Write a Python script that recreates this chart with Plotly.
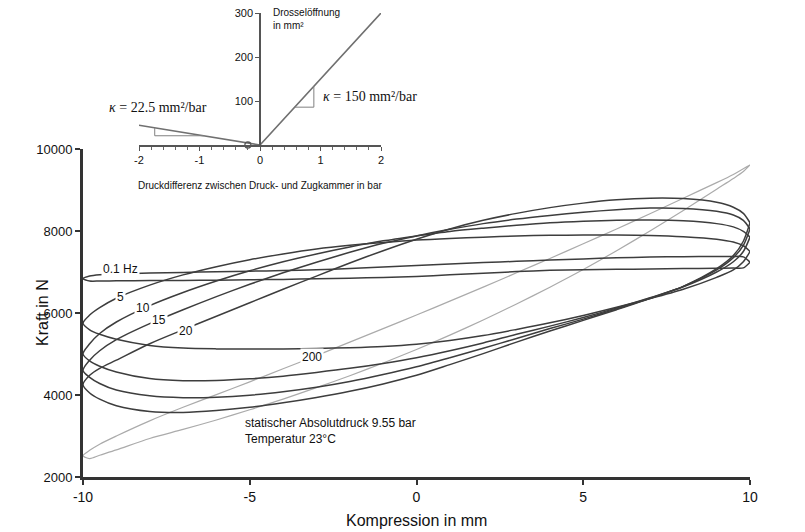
import plotly.graph_objects as go

# page body has an 8 px margin: the figure is sized so that it fills the visible window
OFF = 8
W, H = 805 - OFF, 532 - OFF
FONT = "Liberation Sans, Arial, sans-serif"
SERIF = "Liberation Serif, Times New Roman, serif"


def px(p):
    return (p - OFF) / W


def py(p):
    return 1 - (p - OFF) / H


# ---------------- main chart data (Kompression in mm vs Kraft in N) ----------------
X_UP = [-10, -9.8, -9.5, -9, -8, -7, -6, -5, -4, -3, -2, -1, 0, 1, 2, 3, 4, 5, 6, 7, 8, 9, 9.5, 9.8, 10]
X_LO = [10, 9.8, 9.5, 9, 8, 7, 6, 5, 4, 3, 2, 1, 0, -1, -2, -3, -4, -5, -6, -7, -8, -9, -9.5, -9.8, -10]

F_01_UP = [6840, 6900, 6930, 6950, 6975, 6990, 7005, 7020, 7035, 7055, 7085, 7120, 7160,
           7195, 7230, 7260, 7290, 7320, 7345, 7365, 7375, 7380, 7380, 7370, 7240]
F_01_LO = [7240, 7100, 7095, 7090, 7085, 7075, 7065, 7055, 7040, 7010, 6970, 6930, 6890,
           6865, 6850, 6835, 6820, 6810, 6800, 6795, 6790, 6785, 6780, 6780, 6840]

F_5_UP = [5750, 5950, 6130, 6360, 6680, 6930, 7130, 7300, 7440, 7560, 7650, 7720, 7780,
          7820, 7850, 7880, 7895, 7900, 7900, 7890, 7860, 7800, 7730, 7640, 7500]
F_5_LO = [7500, 7250, 7050, 6870, 6580, 6350, 6140, 5940, 5760, 5600, 5450, 5330, 5240,
          5185, 5155, 5135, 5125, 5120, 5125, 5145, 5210, 5360, 5480, 5590, 5750]

F_10_UP = [5000, 5250, 5500, 5780, 6180, 6500, 6780, 7030, 7250, 7440, 7610, 7760, 7880,
           7990, 8070, 8140, 8200, 8240, 8265, 8270, 8250, 8180, 8100, 7990, 7850]
F_10_LO = [7850, 7500, 7250, 7000, 6640, 6370, 6120, 5890, 5680, 5480, 5270, 5080, 4910,
           4770, 4650, 4550, 4460, 4395, 4355, 4350, 4400, 4560, 4700, 4830, 5000]

F_15_UP = [4600, 4850, 5080, 5350, 5740, 6080, 6400, 6700, 6980, 7240, 7480, 7700, 7880,
           8040, 8180, 8290, 8380, 8460, 8520, 8560, 8550, 8480, 8390, 8260, 8050]
F_15_LO = [8050, 7650, 7350, 7050, 6650, 6360, 6100, 5850, 5620, 5380, 5140, 4910, 4690,
           4500, 4330, 4190, 4080, 3995, 3945, 3935, 3980, 4120, 4280, 4430, 4600]

F_20_UP = [4250, 4480, 4650, 4850, 5250, 5590, 5920, 6250, 6580, 6900, 7220, 7520, 7800,
           8050, 8260, 8430, 8570, 8680, 8760, 8800, 8790, 8700, 8580, 8430, 8200]
F_20_LO = [8200, 7750, 7400, 7080, 6650, 6350, 6080, 5820, 5560, 5290, 5010, 4740, 4480,
           4270, 4090, 3940, 3810, 3700, 3620, 3575, 3600, 3740, 3900, 4050, 4250]

F_200_UP = [2520, 2650, 2800, 3000, 3370, 3700, 4010, 4320, 4640, 4960, 5290, 5620, 5950,
            6290, 6630, 6980, 7330, 7690, 8050, 8420, 8800, 9180, 9380, 9520, 9610]
F_200_LO = [9610, 9450, 9280, 9020, 8500, 8000, 7520, 7060, 6630, 6220, 5830, 5460, 5110,
            4780, 4470, 4180, 3900, 3640, 3390, 3160, 2940, 2660, 2530, 2450, 2520]

X_TICKS = [-10, -5, 0, 5, 10]
X_TICKTEXT = ["-10", "-5", "0", "5", "10"]
Y_TICKS = [2000, 4000, 6000, 8000, 10000]
Y_TICKTEXT = ["2000", "4000", "6000", "8000", "10000"]

# loop labels: (text, x, y)
LEFT_LABELS = [("0.1 Hz", -8.89, 7073), ("5", -8.89, 6390), ("10", -8.2, 6122),
               ("15", -7.72, 5830), ("20", -6.91, 5561), ("200", -3.13, 4927)]
RIGHT_LABELS = [("200 Hz", 10.36, 9680), ("20", 10.48, 8585), ("15", 10.48, 8220),
                ("10", 10.48, 7855), ("5", 10.66, 7535), ("0.1", 10.66, 7170)]

# ---------------- inset data (Druckdifferenz in bar vs Drosselöffnung in mm²) ----------------
DP = [-2, 0, 2]
AREA = [45, 0, 300]
VALVE_DP = [-0.2]
VALVE_AREA = [0]
TRI_L_X = [-1.74, -1.74, -0.93]
TRI_L_Y = [39, 21, 21]
TRI_R_X = [0.573, 0.89, 0.89]
TRI_R_Y = [86, 86, 133.5]
INSET_X_TICKS = [-2, -1, 0, 1, 2]
INSET_X_TICKTEXT = ["-2", "-1", "0", "1", "2"]
INSET_Y_TICKS = [100, 200, 300]

fig = go.Figure()

loops = [
    (F_200_UP, F_200_LO, "#ababab", 1.2),
    (F_01_UP, F_01_LO, "#3d3d3d", 1.5),
    (F_5_UP, F_5_LO, "#3d3d3d", 1.5),
    (F_10_UP, F_10_LO, "#3d3d3d", 1.5),
    (F_15_UP, F_15_LO, "#3d3d3d", 1.5),
    (F_20_UP, F_20_LO, "#3d3d3d", 1.5),
]
for fu, fl, col, wd in loops:
    fig.add_trace(go.Scatter(
        x=X_UP + X_LO, y=fu + fl, mode="lines",
        line=dict(color=col, width=wd, shape="spline", smoothing=0.8),
        xaxis="x", yaxis="y", showlegend=False, hoverinfo="skip"))

# inset traces
fig.add_trace(go.Scatter(x=DP, y=AREA, mode="lines", line=dict(color="#707070", width=1.6),
                         xaxis="x2", yaxis="y2", showlegend=False, hoverinfo="skip"))
fig.add_trace(go.Scatter(x=TRI_L_X, y=TRI_L_Y, mode="lines", line=dict(color="#808080", width=1),
                         xaxis="x2", yaxis="y2", showlegend=False, hoverinfo="skip"))
fig.add_trace(go.Scatter(x=TRI_R_X, y=TRI_R_Y, mode="lines", line=dict(color="#808080", width=1),
                         xaxis="x2", yaxis="y2", showlegend=False, hoverinfo="skip"))
fig.add_trace(go.Scatter(x=VALVE_DP, y=VALVE_AREA, mode="markers",
                         marker=dict(symbol="circle-open", size=6, color="#555", line=dict(width=1.3)),
                         xaxis="x2", yaxis="y2", showlegend=False, hoverinfo="skip",
                         cliponaxis=False))

x0d, x1d = px(139), px(381)
annotations = []
for t, x, y in LEFT_LABELS:
    annotations.append(dict(text=t, x=x, y=y, xref="x", yref="y", showarrow=False,
                            xanchor="center", yanchor="middle",
                            font=dict(family=FONT, size=12, color="#111"),
                            bgcolor="white", borderpad=1))
for t, x, y in RIGHT_LABELS:
    annotations.append(dict(text=t, x=x, y=y, xref="x", yref="y", showarrow=False,
                            xanchor="left", yanchor="middle",
                            font=dict(family=FONT, size=12, color="#111")))

annotations += [
    dict(text="statischer Absolutdruck 9.55 bar<br>Temperatur 23°C", x=-5.2, y=3110,
         xref="x", yref="y", showarrow=False, xanchor="left", yanchor="middle", align="left",
         font=dict(family=FONT, size=12, color="#111")),
    dict(text="Kraft in N", x=px(42), y=py(313), xref="paper", yref="paper",
         xanchor="center", yanchor="middle",
         showarrow=False, textangle=-90, font=dict(family=FONT, size=16, color="#111")),
    dict(text="Kompression in mm", x=px(416), y=py(520), xref="paper", yref="paper",
         xanchor="center", yanchor="middle",
         showarrow=False, font=dict(family=FONT, size=16, color="#111")),
    dict(text="Drosselöffnung<br>in mm²", x=px(271), y=py(5), xref="paper", yref="paper",
         showarrow=False, xanchor="left", yanchor="top", align="left",
         font=dict(family=FONT, size=10, color="#111")),
    dict(text="Druckdifferenz zwischen Druck- und Zugkammer in bar", x=px(260), y=py(185),
         xref="paper", yref="paper", showarrow=False, xanchor="center", yanchor="middle",
         font=dict(family=FONT, size=10, color="#111")),
    dict(text="<i>κ</i> = 22.5 mm²/bar", x=px(107), y=py(108), xref="paper", yref="paper",
         showarrow=False, xanchor="left", yanchor="middle",
         font=dict(family=SERIF, size=14, color="#111")),
    dict(text="<i>κ</i> = 150 mm²/bar", x=px(321), y=py(96), xref="paper", yref="paper",
         showarrow=False, xanchor="left", yanchor="middle",
         font=dict(family=SERIF, size=14, color="#111")),
]

fig.update_layout(
    width=W, height=H, autosize=False,
    margin=dict(l=0, r=0, t=0, b=0),
    paper_bgcolor="white", plot_bgcolor="white",
    showlegend=False,
    xaxis=dict(domain=[px(83), px(750)], range=[-10, 10], anchor="y",
               tickvals=X_TICKS, ticktext=X_TICKTEXT, ticks="outside", ticklen=5, tickwidth=2,
               tickcolor="#333",
               showline=True, linewidth=3, linecolor="#333", showgrid=False, zeroline=False,
               tickfont=dict(family=FONT, size=14, color="#111"), automargin=False),
    yaxis=dict(domain=[py(477), py(149)], range=[2000, 10000], anchor="x",
               tickvals=Y_TICKS, ticktext=Y_TICKTEXT, ticks="outside", ticklen=5, tickwidth=2,
               tickcolor="#333",
               showline=True, linewidth=3, linecolor="#333", showgrid=False, zeroline=False,
               tickfont=dict(family=FONT, size=13, color="#111"), automargin=False),
    xaxis2=dict(domain=[x0d, x1d], range=[-2, 2], anchor="y2",
                tickvals=INSET_X_TICKS, ticktext=INSET_X_TICKTEXT, ticks="outside", ticklen=4,
                tickwidth=1.3, tickcolor="#555",
                minor=dict(dtick=0.2, ticks="outside", ticklen=3, tickcolor="#666", tickwidth=1),
                showline=True, linewidth=1.6, linecolor="#555", showgrid=False, zeroline=False,
                tickfont=dict(family=FONT, size=11, color="#111"), automargin=False),
    yaxis2=dict(domain=[py(145), py(13)], range=[0, 300], anchor="free",
                position=(x0d + x1d) / 2, tickvals=INSET_Y_TICKS, ticks="outside", ticklen=4,
                tickwidth=1.3, tickcolor="#555", ticklabeloverflow="allow",
                showline=True, linewidth=1.6, linecolor="#555", showgrid=False, zeroline=False,
                tickfont=dict(family=FONT, size=11, color="#111"), automargin=False),
    annotations=annotations,
)

fig.write_html("out.html")
